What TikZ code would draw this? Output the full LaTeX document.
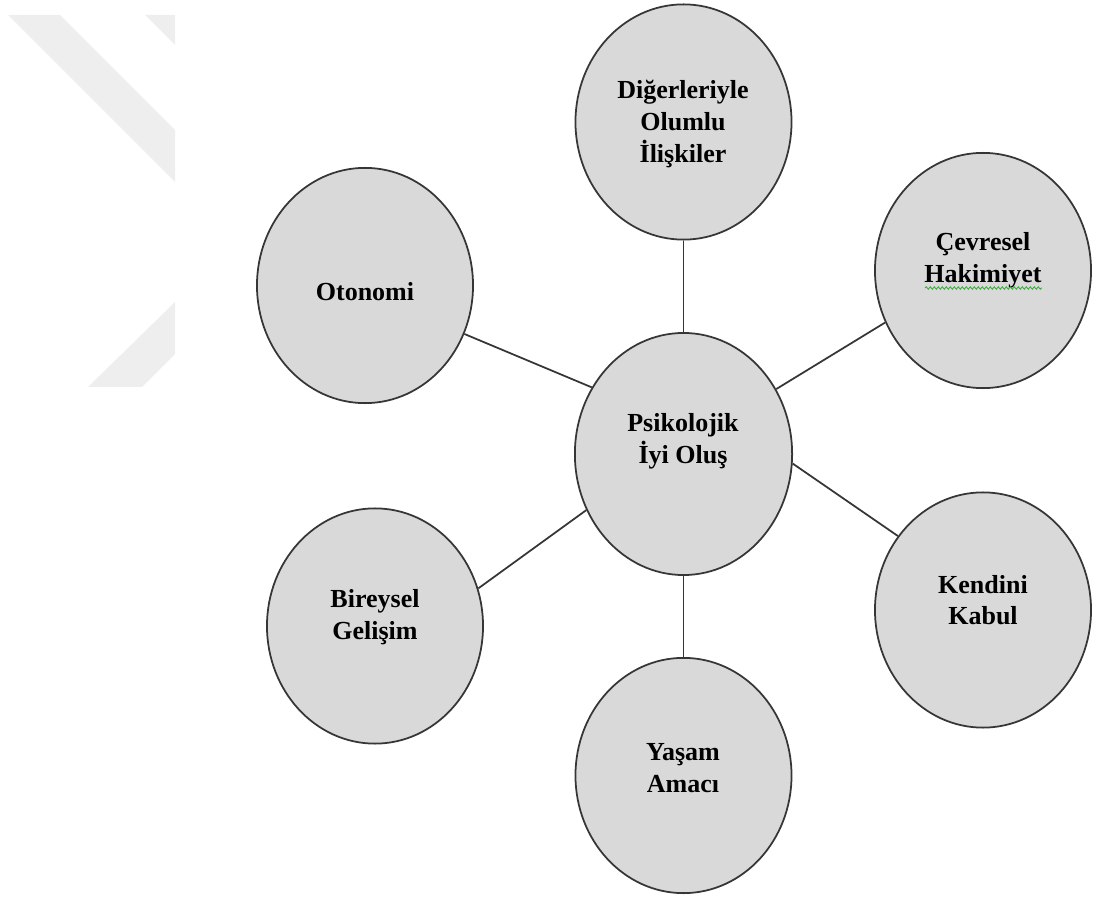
\documentclass[tikz,border=0pt]{standalone}
\usepackage{fontspec}
\setmainfont{Liberation Serif}
\usetikzlibrary{shapes.geometric,decorations.pathmorphing}
\definecolor{bubblefill}{HTML}{D9D9D9}
\definecolor{edgecol}{HTML}{363636}
\definecolor{wmcol}{HTML}{EEEEEE}
\definecolor{spellcol}{HTML}{3DAA3D}
\begin{document}
\begin{tikzpicture}[x=0.025cm,y=-0.025cm,
  bubble/.style={ellipse, draw=edgecol, fill=bubblefill, line width=1.25pt,
    minimum width=5.4cm, minimum height=5.88cm, inner sep=0pt},
  hub/.style={bubble, minimum width=5.43cm, minimum height=6.05cm},
  txt/.style={align=center, font={\fontsize{18.5}{22.5}\selectfont\bfseries},
    text=black, inner sep=0pt},
  link/.style={draw=edgecol, line width=1.25pt},
  wave/.style={draw=spellcol, line width=0.6pt, decorate,
    decoration={snake, segment length=0.1cm, amplitude=0.03cm}}
]
\useasboundingbox (0,0) rectangle (1093,899);
% watermark
\fill[wmcol] (8,15) -- (60,15) -- (175,130) -- (175,182) -- cycle;
\fill[wmcol] (145,15) -- (175,15) -- (175,45) -- cycle;
\fill[wmcol] (88,387) -- (142,387) -- (175,354) -- (175,302) -- cycle;
% bubbles
\node[hub] (psi) at (683.5,454) {};
\node[bubble] (dig) at (683.5,122) {};
\node[bubble] (oto) at (365,285.5) {};
\node[bubble] (cev) at (983,270.5) {};
\node[bubble] (ken) at (983,610) {};
\node[bubble] (yas) at (683.5,775.5) {};
\node[bubble] (bir) at (375,626) {};
% links
\draw[link] (dig.south) -- (psi.north);
\draw[link] (oto.-26.6) -- (psi.144.6);
\draw[link] (cev.208.9) -- (psi.35.4);
\draw[link] (ken.139.4) -- (psi.-5.8);
\draw[link] (bir.20.3) -- (psi.210.5);
\draw[link] (yas.north) -- (psi.south);
% texts
\node[txt] (psit) at (683,441) {Psikolojik\\İyi Oluş};
\node[txt] (digt) at (683,124) {Diğerleriyle\\Olumlu\\İlişkiler};
\node[txt] (otot) at (365,292) {Otonomi};
\node[txt] (cevt) at (983,260) {Çevresel\\Hakimiyet};
\node[txt] (kent) at (983,600) {Kendini\\Kabul};
\node[txt] (yast) at (683,768) {Yaşam\\Amacı};
\node[txt] (birt) at (375,617) {Bireysel\\Gelişim};
% spell-check underline
\draw[wave] (925,288) -- (1042,288);
\end{tikzpicture}
\end{document}
